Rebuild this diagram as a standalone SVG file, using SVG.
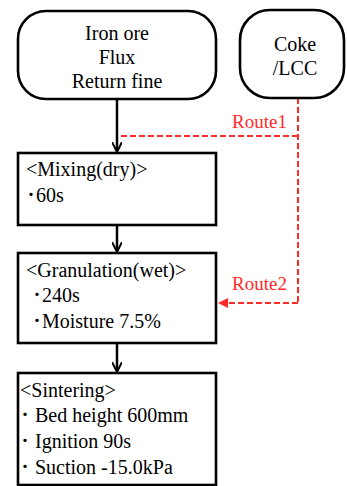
<svg xmlns="http://www.w3.org/2000/svg" width="347" height="486" viewBox="0 0 347 486">
<defs>
<style>
.box{fill:#fff;stroke:#000;stroke-width:2.6}
.t{font-family:"Liberation Serif","Noto Sans CJK JP",serif;font-size:20px;fill:#000}
.c{text-anchor:middle}
.red{font-family:"Liberation Serif",serif;font-size:19px;fill:#ff2a2a}
.ln{stroke:#000;stroke-width:2.5;fill:none}
.dash{stroke:#ff2a2a;stroke-width:2;fill:none;stroke-dasharray:6 3}
</style>
<marker id="ah" viewBox="0 0 10 10" refX="9" refY="5" markerWidth="4" markerHeight="4" orient="auto" markerUnits="strokeWidth">
<path d="M0,0 L10,5 L0,10" fill="none" stroke="#000" stroke-width="2"/>
</marker>
<marker id="rh" viewBox="0 0 10 10" refX="9" refY="5" markerWidth="5" markerHeight="5" orient="auto" markerUnits="strokeWidth">
<path d="M0,0 L10,5 L0,10 z" fill="#ff2a2a"/>
</marker>
</defs>
<g id="connectors">
<line class="ln" x1="117" y1="99" x2="117" y2="151" marker-end="url(#ah)"/>
<line class="ln" x1="117" y1="225" x2="117" y2="251" marker-end="url(#ah)"/>
<line class="ln" x1="117" y1="343" x2="117" y2="371" marker-end="url(#ah)"/>
<path class="dash" d="M298,98 V303"/>
<path class="dash" d="M298,136 H119"/>
<path class="dash" d="M298,303 H219" marker-end="url(#rh)"/>
<text class="red" x="232" y="128">Route1</text>
<text class="red" x="232" y="290">Route2</text>
</g>
<g id="iron">
<rect class="box" x="18" y="11" width="198" height="88" rx="28"/>
<text class="t c" x="117" y="40">Iron ore</text>
<text class="t c" x="117" y="64">Flux</text>
<text class="t c" x="117" y="88">Return fine</text>
</g>
<g id="coke">
<rect class="box" x="240" y="10" width="104" height="88" rx="30"/>
<text class="t c" x="295" y="51">Coke</text>
<text class="t c" x="295" y="75">/LCC</text>
</g>
<g id="mixing">
<rect class="box" x="18" y="153" width="198" height="72"/>
<text class="t" x="26" y="176">&lt;Mixing(dry)&gt;</text>
<text class="t" x="26" y="202">･60s</text>
</g>
<g id="granulation">
<rect class="box" x="18" y="253" width="198" height="90"/>
<text class="t" x="26" y="277">&lt;Granulation(wet)&gt;</text>
<text class="t" x="32" y="302">･240s</text>
<text class="t" x="32" y="328">･Moisture 7.5%</text>
</g>
<g id="sintering">
<rect class="box" x="18" y="373" width="198" height="112"/>
<text class="t" x="20" y="397">&lt;Sintering&gt;</text>
<text class="t" x="20" y="422">･ Bed height 600mm</text>
<text class="t" x="20" y="448">･ Ignition 90s</text>
<text class="t" x="20" y="474">･ Suction -15.0kPa</text>
</g>
</svg>
